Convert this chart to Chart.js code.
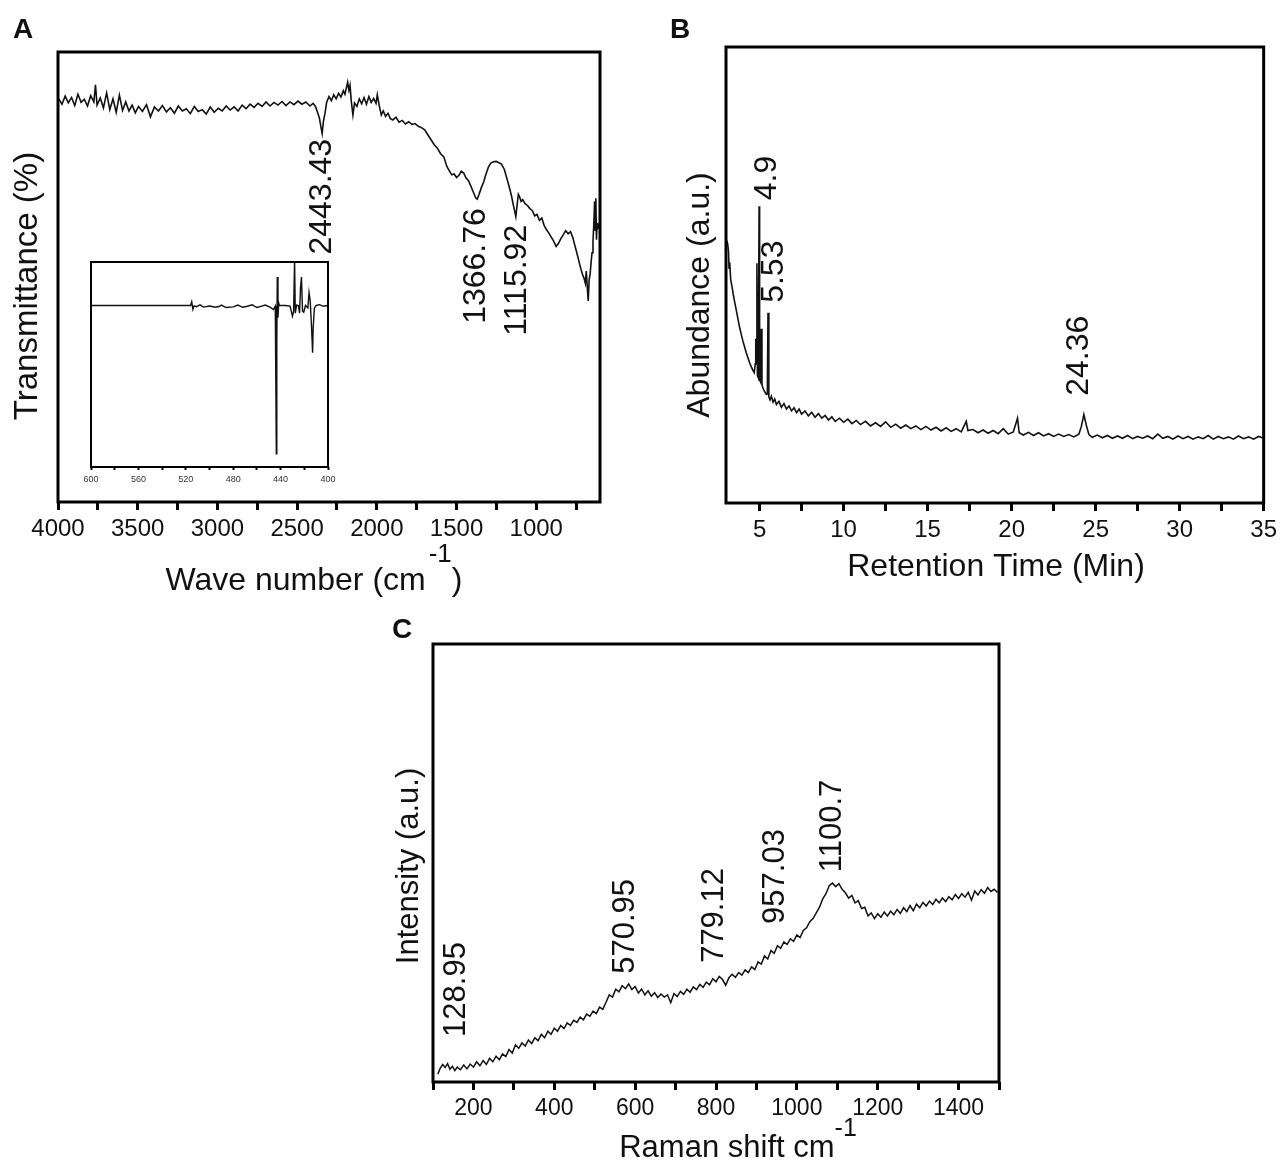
<!DOCTYPE html>
<html>
<head>
<meta charset="utf-8">
<script src="https://cdn.jsdelivr.net/npm/chart.js@4.4.1/dist/chart.umd.min.js"></script>
<style>
  html, body { margin: 0; padding: 0; background: #fff; }
  #wrap { position: relative; width: 1282px; height: 1163px; }
  #wrap canvas { position: absolute; left: 0; top: 0; }
</style>
</head>
<body>
<div id="wrap">
  <canvas id="chartA" width="1282" height="1163"></canvas>
  <canvas id="chartInset" width="1282" height="1163"></canvas>
  <canvas id="chartB" width="1282" height="1163"></canvas>
  <canvas id="chartC" width="1282" height="1163"></canvas>
</div>
<script>
// ---- A: FTIR (wave number vs transmittance, arbitrary 0-100 frame units)
const aWave = [
  3995, 3975, 3955, 3935, 3915, 3895, 3875, 3855, 3835, 3815,
  3795, 3775, 3765, 3755, 3735, 3715, 3695, 3675, 3655, 3635,
  3615, 3595, 3575, 3555, 3535, 3515, 3495, 3470, 3445, 3420,
  3395, 3370, 3345, 3320, 3295, 3270, 3245, 3220, 3195, 3170,
  3145, 3120, 3095, 3070, 3045, 3020, 2995, 2970, 2945, 2920,
  2895, 2870, 2845, 2820, 2795, 2770, 2745, 2720, 2695, 2670,
  2645, 2620, 2595, 2570, 2545, 2520, 2495, 2470, 2445, 2420,
  2400, 2385, 2370, 2360, 2350, 2343, 2335, 2325, 2315, 2300,
  2285, 2270, 2255, 2240, 2225, 2210, 2200, 2190, 2183, 2175,
  2168, 2160, 2150, 2140, 2125, 2110, 2095, 2080, 2065, 2050,
  2035, 2020, 2005, 1997, 1985, 1972, 1960, 1945, 1930, 1915,
  1900, 1880, 1860, 1840, 1820, 1800, 1780, 1760, 1740, 1720,
  1700, 1680, 1660, 1640, 1620, 1600, 1580, 1560, 1545, 1530,
  1515, 1500, 1485, 1470, 1455, 1440, 1425, 1410, 1395, 1380,
  1370, 1360, 1345, 1330, 1315, 1300, 1285, 1268, 1250, 1235,
  1218, 1200, 1185, 1170, 1155, 1145, 1135, 1128, 1120, 1112,
  1105, 1095, 1085, 1070, 1055, 1040, 1025, 1010, 995, 980,
  965, 950, 935, 920, 905, 890, 875, 860, 845, 830,
  815, 800, 785, 770, 760, 750, 740, 730, 720, 710,
  700, 692, 686, 680, 674, 668, 662, 656, 650, 644,
  638, 634, 630, 626, 622, 618, 614, 610, 606
];
const aTrans = [
  89.6, 88.4, 90.2, 88.7, 89.9, 88.1, 90.6, 88.8, 89.5, 88.0,
  90.3, 88.9, 92.7, 88.2, 89.8, 87.6, 90.9, 87.2, 89.6, 86.6,
  90.4, 87.0, 88.9, 86.9, 88.2, 86.5, 87.9, 86.8, 88.3, 85.6,
  87.8, 86.9, 88.1, 86.7, 87.6, 86.4, 88.0, 86.9, 87.4, 86.3,
  87.9, 86.8, 87.2, 86.2, 87.8, 86.6, 87.5, 86.9, 88.0, 87.1,
  87.8, 86.9, 88.2, 87.4, 88.4, 87.7, 88.6, 87.9, 88.9, 88.0,
  88.8, 88.2, 89.0, 88.1, 88.9, 88.3, 89.1, 88.4, 88.9, 88.0,
  88.6, 87.9, 86.4, 85.3, 83.2, 81.9, 84.6, 86.4, 88.8, 90.1,
  89.2, 90.5, 89.6, 90.8, 90.0, 91.4, 90.6, 92.2, 93.3, 91.5,
  92.6, 89.0, 86.0, 88.7, 87.9, 89.6, 88.5, 89.9, 88.4, 90.1,
  88.8, 89.7, 88.6, 90.5, 88.1, 86.0, 86.9, 85.7, 86.4, 85.2,
  84.9, 85.5, 84.4, 84.8, 84.0, 84.5, 83.9, 84.1, 83.5, 83.2,
  82.7, 81.6, 80.5, 79.4, 78.6, 77.4, 76.7, 74.5, 73.6, 72.7,
  72.9, 72.1, 72.6, 73.5, 73.1, 72.0, 71.4, 70.2, 68.9, 67.6,
  67.3, 68.2, 69.8, 71.1, 72.9, 74.4, 75.3, 75.6, 75.7, 75.4,
  75.1, 73.9, 72.0, 70.1, 68.0, 66.2, 64.6, 63.4, 66.0, 68.4,
  67.9, 66.8, 67.2, 66.3, 65.9, 65.2, 64.8, 63.6, 63.9, 62.6,
  63.1, 61.4, 60.5, 59.7, 58.8, 57.9, 56.8, 57.5, 58.6, 59.4,
  60.3, 59.6, 60.1, 58.7, 57.3, 56.0, 54.6, 53.2, 51.8, 50.6,
  49.7, 48.6, 51.3, 47.9, 44.7, 49.5, 50.6, 53.2, 55.4, 57.8,
  62.5, 66.8, 60.4, 67.5, 58.3, 62.0, 60.6, 61.4, 60.8
];
const aTicks = [4000, 3750, 3500, 3250, 3000, 2750, 2500, 2250, 2000, 1750, 1500, 1250, 1000, 750];
const aTickLabels = [4000, 3500, 3000, 2500, 2000, 1500, 1000];
const aPeakText = ['2443.43', '1366.76', '1115.92'];

// ---- A inset: 600-400 cm-1 region
const insetWave = [
  600, 580, 560, 540, 520, 516, 515, 514, 513, 511,
  508, 505, 500, 495, 492, 490, 486, 480, 476, 472,
  468, 464, 460, 456, 453, 449, 446, 444.5, 444, 443.6,
  443.2, 442.8, 442.2, 441.6, 441, 436, 432, 430, 429, 428.2,
  427.6, 426.5, 425, 424, 423.2, 422.4, 421.5, 420.5, 419, 417,
  416, 415, 414, 413, 412.5, 411.5, 410, 407, 404, 400
];
const insetTrans = [
  78.8, 78.8, 78.8, 78.8, 78.8, 78.8, 80.6, 76.9, 78.6, 78.2,
  79.1, 78.0, 78.5, 77.9, 78.3, 79.0, 77.8, 78.1, 79.0, 77.9,
  78.4, 79.1, 77.8, 78.5, 79.0, 78.0, 76.8, 78.5, 39.6, 6.5,
  60.0, 92.7, 73.0, 80.0, 78.8, 78.8, 78.5, 73.6, 76.0, 101,
  75.0, 79.0, 78.8, 75.0, 87.4, 92.7, 76.0, 75.5, 78.8, 77.6,
  85.1, 81.0, 69.6, 55.8, 68.0, 77.5, 78.8, 79.2, 78.4, 78.8
];
const insetTicks = [600, 580, 560, 540, 520, 500, 480, 460, 440, 420, 400];
const insetTickLabels = [600, 560, 520, 480, 440, 400];

// ---- B: chromatogram
const bTime = [
  3.05, 3.10, 3.15, 3.18, 3.22, 3.28, 3.35, 3.42, 3.50, 3.60,
  3.70, 3.80, 3.90, 4.00, 4.10, 4.20, 4.30, 4.40, 4.50, 4.60,
  4.68, 4.74, 4.77, 4.80, 4.84, 4.87, 4.92, 4.97, 5.00, 5.05,
  5.10, 5.14, 5.20, 5.30, 5.40, 5.46, 5.50, 5.55, 5.62, 5.70,
  5.80, 5.90, 6.00, 6.15, 6.30, 6.45, 6.60, 6.75, 6.90, 7.05,
  7.20, 7.35, 7.50, 7.70, 7.90, 8.10, 8.30, 8.50, 8.70, 8.90,
  9.10, 9.30, 9.50, 9.75, 10.0, 10.25, 10.5, 10.75, 11.0, 11.3,
  11.6, 11.9, 12.2, 12.5, 12.8, 13.1, 13.4, 13.7, 14.0, 14.3,
  14.6, 14.9, 15.2, 15.5, 15.8, 16.1, 16.4, 16.7, 17.0, 17.3,
  17.4, 17.7, 18.0, 18.3, 18.6, 18.9, 19.2, 19.5, 19.8, 20.1,
  20.35, 20.45, 20.7, 21.0, 21.3, 21.6, 21.9, 22.2, 22.5, 22.8,
  23.1, 23.4, 23.7, 24.0, 24.15, 24.3, 24.45, 24.6, 24.8, 25.1,
  25.4, 25.7, 26.0, 26.3, 26.6, 26.9, 27.2, 27.5, 27.8, 28.1,
  28.4, 28.7, 29.0, 29.3, 29.6, 29.9, 30.2, 30.5, 30.8, 31.1,
  31.4, 31.7, 32.0, 32.3, 32.6, 32.9, 33.2, 33.5, 33.8, 34.1,
  34.4, 34.7, 35.0
];
const bAbund = [
  57.5, 56.8, 55.2, 51.5, 52.8, 49.0, 47.6, 46.0, 44.4, 42.5,
  40.6, 38.7, 37.1, 35.6, 34.3, 33.0, 31.9, 30.8, 29.9, 29.1,
  28.6, 30.5, 36.0, 35.2, 52.6, 28.0, 27.5, 65.1, 27.0, 26.6,
  38.2, 26.0, 25.2, 24.4, 23.8, 23.9, 41.7, 23.3, 22.6, 23.4,
  22.1, 22.8, 21.6, 22.3, 21.0, 21.8, 20.6, 21.3, 20.2, 20.9,
  19.8, 20.6, 19.5, 20.2, 19.1, 19.9, 18.8, 19.6, 18.6, 19.2,
  18.2, 18.9, 17.9, 18.6, 17.7, 18.4, 17.4, 18.1, 17.2, 17.9,
  16.9, 17.6, 16.8, 17.8, 16.6, 17.3, 16.4, 17.1, 16.3, 16.9,
  16.1, 16.8, 16.0, 16.6, 15.8, 16.5, 15.7, 16.3, 15.6, 17.9,
  15.9, 16.1, 15.4, 16.0, 15.3, 15.9, 15.2, 16.3, 15.1, 15.6,
  18.6, 15.4, 14.9, 15.5, 14.8, 15.4, 14.7, 15.2, 14.6, 15.1,
  14.6, 15.0, 14.5, 15.1, 16.8, 19.4, 17.0, 15.0, 14.4, 14.9,
  14.3, 14.8, 14.2, 14.7, 14.2, 14.8, 14.1, 14.6, 14.2, 14.7,
  14.1, 15.1, 14.2, 14.6, 14.0, 14.7, 14.1, 14.6, 14.0, 14.5,
  14.1, 14.8, 14.0, 14.6, 14.1, 14.5, 14.0, 14.7, 14.1, 14.5,
  14.0, 14.6, 14.2
];
const bTicks = [5, 7.5, 10, 12.5, 15, 17.5, 20, 22.5, 25, 27.5, 30, 32.5, 35];
const bTickLabels = [5, 10, 15, 20, 25, 30, 35];
const bPeakText = ['4.9', '5.53', '24.36'];

// ---- C: Raman
const cShift = [
  112, 118, 124, 130, 136, 142, 148, 154, 160, 168,
  176, 184, 192, 200, 208, 216, 224, 232, 240, 248,
  256, 264, 272, 280, 288, 296, 304, 312, 320, 328,
  336, 344, 352, 360, 368, 376, 384, 392, 400, 408,
  416, 424, 432, 440, 448, 456, 464, 472, 480, 488,
  496, 504, 512, 520, 528, 536, 544, 552, 560, 568,
  576, 584, 592, 600, 608, 616, 624, 632, 640, 648,
  656, 664, 672, 680, 688, 696, 704, 712, 720, 728,
  736, 744, 752, 760, 768, 776, 784, 792, 800, 808,
  816, 824, 832, 840, 848, 856, 864, 872, 880, 888,
  896, 904, 912, 920, 928, 936, 944, 952, 960, 968,
  976, 984, 992, 1000, 1008, 1016, 1024, 1032, 1040, 1048,
  1056, 1064, 1072, 1080, 1088, 1096, 1104, 1112, 1120, 1128,
  1136, 1144, 1152, 1160, 1168, 1176, 1184, 1192, 1200, 1208,
  1216, 1224, 1232, 1240, 1248, 1256, 1264, 1272, 1280, 1288,
  1296, 1304, 1312, 1320, 1328, 1336, 1344, 1352, 1360, 1368,
  1376, 1384, 1392, 1400, 1408, 1416, 1424, 1432, 1440, 1448,
  1456, 1464, 1472, 1480, 1488, 1496
];
const cIntensity = [
  1.8, 3.2, 4.0, 3.3, 4.2, 2.9, 3.6, 2.6, 3.4, 2.8,
  3.9, 3.0, 4.1, 3.4, 4.6, 3.7, 4.9, 4.0, 5.4, 4.6,
  5.9, 5.1, 6.4, 5.8, 7.4, 6.6, 8.5, 7.7, 8.9, 8.2,
  9.6, 8.8, 10.1, 9.4, 10.9, 10.1, 11.6, 10.9, 12.3, 11.6,
  12.9, 12.2, 13.5, 12.9, 14.1, 13.6, 14.8, 14.2, 15.5, 15.0,
  16.2, 15.6, 17.1, 16.6, 18.2, 19.9, 19.4, 21.2, 20.6, 22.0,
  21.3, 22.4, 21.1, 21.8, 20.3, 21.2, 19.9, 20.8, 19.6, 20.4,
  19.3, 20.1, 19.4, 19.9, 18.1, 20.2, 19.5, 20.7, 20.0, 21.2,
  20.5, 21.7, 21.1, 22.3, 21.6, 22.8, 22.2, 23.6, 22.9, 24.1,
  23.4, 22.1, 23.8, 24.6, 23.9, 25.0, 24.4, 25.6, 25.0, 26.3,
  25.7, 27.4, 26.9, 28.8, 28.1, 30.0, 29.4, 31.1, 30.5, 32.0,
  31.4, 32.7, 32.1, 33.6, 33.0, 34.6, 35.2, 36.6, 37.3, 38.6,
  39.9, 41.8, 43.0, 44.8, 45.4, 44.6, 45.3, 44.0, 43.2, 42.0,
  42.6, 40.9, 41.4, 39.6, 39.9, 37.9, 38.6, 37.3, 38.4, 37.6,
  38.8, 37.9, 39.0, 38.2, 39.4, 38.5, 39.8, 38.9, 40.3, 39.1,
  40.6, 39.8, 41.0, 40.2, 41.3, 40.5, 41.7, 40.9, 42.0, 41.2,
  42.3, 41.6, 42.8, 41.9, 43.0, 42.2, 43.3, 41.5, 43.6, 42.7,
  43.9, 43.1, 44.4, 43.5, 44.0, 43.3
];
const cTicks = [100, 200, 300, 400, 500, 600, 700, 800, 900, 1000, 1100, 1200, 1300, 1400, 1500];
const cTickLabels = [200, 400, 600, 800, 1000, 1200, 1400];
const cPeakText = ['128.95', '570.95', '779.12', '957.03', '1100.7'];

const FONT = '"Liberation Sans", Arial, sans-serif';
const INK = '#111';
Chart.defaults.font.family = FONT;
Chart.defaults.color = INK;

// frame box, panel letter, rotated peak labels and axis titles
const decor = {
  id: 'decor',
  afterDraw(chart, args, o) {
    const { ctx, chartArea: a, scales } = chart;
    ctx.save();
    ctx.strokeStyle = '#000';
    ctx.lineWidth = o.frame;
    ctx.strokeRect(a.left, a.top, a.right - a.left, a.bottom - a.top);
    ctx.fillStyle = INK;
    if (o.letter) {
      ctx.font = 'bold 28px ' + FONT;
      ctx.textAlign = 'left';
      ctx.textBaseline = 'alphabetic';
      ctx.fillText(o.letter[0], o.letter[1], o.letter[2]);
    }
    (o.peaks || []).forEach(p => {
      ctx.save();
      ctx.translate(scales.x.getPixelForValue(p.x), scales.y.getPixelForValue(p.y));
      ctx.rotate(-Math.PI / 2);
      ctx.font = o.peakSize + 'px ' + FONT;
      ctx.textAlign = p.below ? 'right' : 'left';
      ctx.textBaseline = 'middle';
      ctx.fillText(p.text, 0, 0);
      ctx.restore();
    });
    if (o.yTitle) {
      ctx.save();
      ctx.translate(o.yTitle[1], o.yTitle[2]);
      ctx.rotate(-Math.PI / 2);
      ctx.font = (o.yTitleSize || o.titleSize) + 'px ' + FONT;
      ctx.textAlign = 'center';
      ctx.textBaseline = 'middle';
      ctx.fillText(o.yTitle[0], 0, 0);
      ctx.restore();
    }
    if (o.xTitle) {
      const t = o.xTitle, size = o.titleSize, supSize = Math.round(size * 0.8);
      ctx.textAlign = 'left';
      ctx.textBaseline = 'alphabetic';
      ctx.font = size + 'px ' + FONT;
      const w1 = ctx.measureText(t.main).width;
      const w3 = t.tail ? ctx.measureText(t.tail).width : 0;
      ctx.font = supSize + 'px ' + FONT;
      const w2 = t.sup ? ctx.measureText(t.sup).width : 0;
      let x = t.cx - (w1 + w2 + w3 + (t.gap || 0)) / 2;
      ctx.font = size + 'px ' + FONT;
      ctx.fillText(t.main, x, t.base);
      x += w1 + (t.gap || 0);
      if (t.sup) {
        ctx.font = supSize + 'px ' + FONT;
        ctx.fillText(t.sup, x, t.base - t.raise);
        x += w2;
      }
      if (t.tail) {
        ctx.font = size + 'px ' + FONT;
        ctx.fillText(t.tail, x, t.base);
      }
    }
    ctx.restore();
  }
};

function series(xs, ys) {
  return xs.map((x, i) => ({ x: x, y: ys[i] }));
}

function makeChart(id, cfg) {
  const frame = cfg.frame; // [left, top, right, bottom] of the plot box on the page
  return new Chart(document.getElementById(id), {
    type: 'line',
    data: {
      datasets: [{
        data: series(cfg.xs, cfg.ys),
        borderColor: '#111',
        borderWidth: cfg.lineWidth,
        pointRadius: 0,
        tension: 0,
        fill: false,
        clip: 0
      }]
    },
    options: {
      responsive: false,
      animation: false,
      events: [],
      layout: {
        autoPadding: false,
        padding: {
          left: frame[0],
          top: frame[1],
          right: 1282 - frame[2],
          bottom: 1163 - frame[3] - cfg.axisHeight
        }
      },
      plugins: {
        legend: { display: false },
        tooltip: { enabled: false },
        decor: cfg.decor
      },
      scales: {
        x: {
          type: 'linear',
          reverse: !!cfg.reverse,
          min: cfg.min,
          max: cfg.max,
          afterBuildTicks: s => { s.ticks = cfg.ticks.map(v => ({ value: v })); },
          afterFit: s => { s.height = cfg.axisHeight; },
          border: { display: false },
          grid: {
            drawOnChartArea: false,
            drawTicks: true,
            tickLength: cfg.tickLength,
            tickWidth: cfg.tickWidth,
            tickColor: '#000'
          },
          ticks: {
            autoSkip: false,
            maxRotation: 0,
            padding: cfg.tickPad,
            color: cfg.tickColor || INK,
            font: { size: cfg.tickSize },
            callback: v => cfg.labels.includes(v) ? String(v) : ''
          }
        },
        y: { display: false, min: 0, max: 100 }
      }
    },
    plugins: [decor]
  });
}

document.addEventListener('DOMContentLoaded', function () {
  // Panel A
  makeChart('chartA', {
    frame: [58, 52, 600, 502], axisHeight: 50,
    xs: aWave, ys: aTrans, lineWidth: 1.6,
    reverse: true, min: 600, max: 4000,
    ticks: aTicks, labels: aTickLabels,
    tickLength: 8, tickWidth: 3, tickPad: 5, tickSize: 24,
    decor: {
      frame: 3, letter: ['A', 13, 38], peakSize: 32, titleSize: 32, yTitleSize: 33,
      peaks: [
        { text: aPeakText[0], x: 2344, y: 80.7, below: true },
        { text: aPeakText[1], x: 1378, y: 65.3, below: true },
        { text: aPeakText[2], x: 1121, y: 61.6, below: true }
      ],
      yTitle: ['Transmittance (%)', 28, 286],
      xTitle: { main: 'Wave number (cm', sup: '-1', tail: ')', cx: 314, base: 590, raise: 28, gap: 3 }
    }
  });

  // Inset of panel A
  makeChart('chartInset', {
    frame: [91, 262, 328, 467], axisHeight: 22,
    xs: insetWave, ys: insetTrans, lineWidth: 1.4,
    reverse: true, min: 400, max: 600,
    ticks: insetTicks, labels: insetTickLabels,
    tickLength: 3, tickWidth: 2, tickPad: 4, tickSize: 9, tickColor: '#333',
    decor: { frame: 2 }
  });

  // Panel B
  makeChart('chartB', {
    frame: [726, 47, 1264, 503], axisHeight: 50,
    xs: bTime, ys: bAbund, lineWidth: 1.6,
    min: 3, max: 35,
    ticks: bTicks, labels: bTickLabels,
    tickLength: 8, tickWidth: 3, tickPad: 5, tickSize: 24,
    decor: {
      frame: 3, letter: ['B', 670, 38], peakSize: 32, titleSize: 32,
      peaks: [
        { text: bPeakText[0], x: 5.44, y: 66.4 },
        { text: bPeakText[1], x: 5.85, y: 43.9 },
        { text: bPeakText[2], x: 24.0, y: 23.5 }
      ],
      yTitle: ['Abundance (a.u.)', 700, 295],
      xTitle: { main: 'Retention Time (Min)', cx: 996, base: 576 }
    }
  });

  // Panel C
  makeChart('chartC', {
    frame: [433, 644, 999, 1082], axisHeight: 50,
    xs: cShift, ys: cIntensity, lineWidth: 1.5,
    min: 100, max: 1500,
    ticks: cTicks, labels: cTickLabels,
    tickLength: 8, tickWidth: 3, tickPad: 5, tickSize: 23,
    decor: {
      frame: 3, letter: ['C', 392, 638], peakSize: 31, titleSize: 31,
      peaks: [
        { text: cPeakText[0], x: 159, y: 10.3 },
        { text: cPeakText[1], x: 577, y: 24.7 },
        { text: cPeakText[2], x: 795, y: 27.2 },
        { text: cPeakText[3], x: 946, y: 36.1 },
        { text: cPeakText[4], x: 1089, y: 47.9 }
      ],
      yTitle: ['Intensity (a.u.)', 409, 866],
      xTitle: { main: 'Raman shift cm', sup: '-1', cx: 738, base: 1157, raise: 21 }
    }
  });
});
</script>
</body>
</html>
